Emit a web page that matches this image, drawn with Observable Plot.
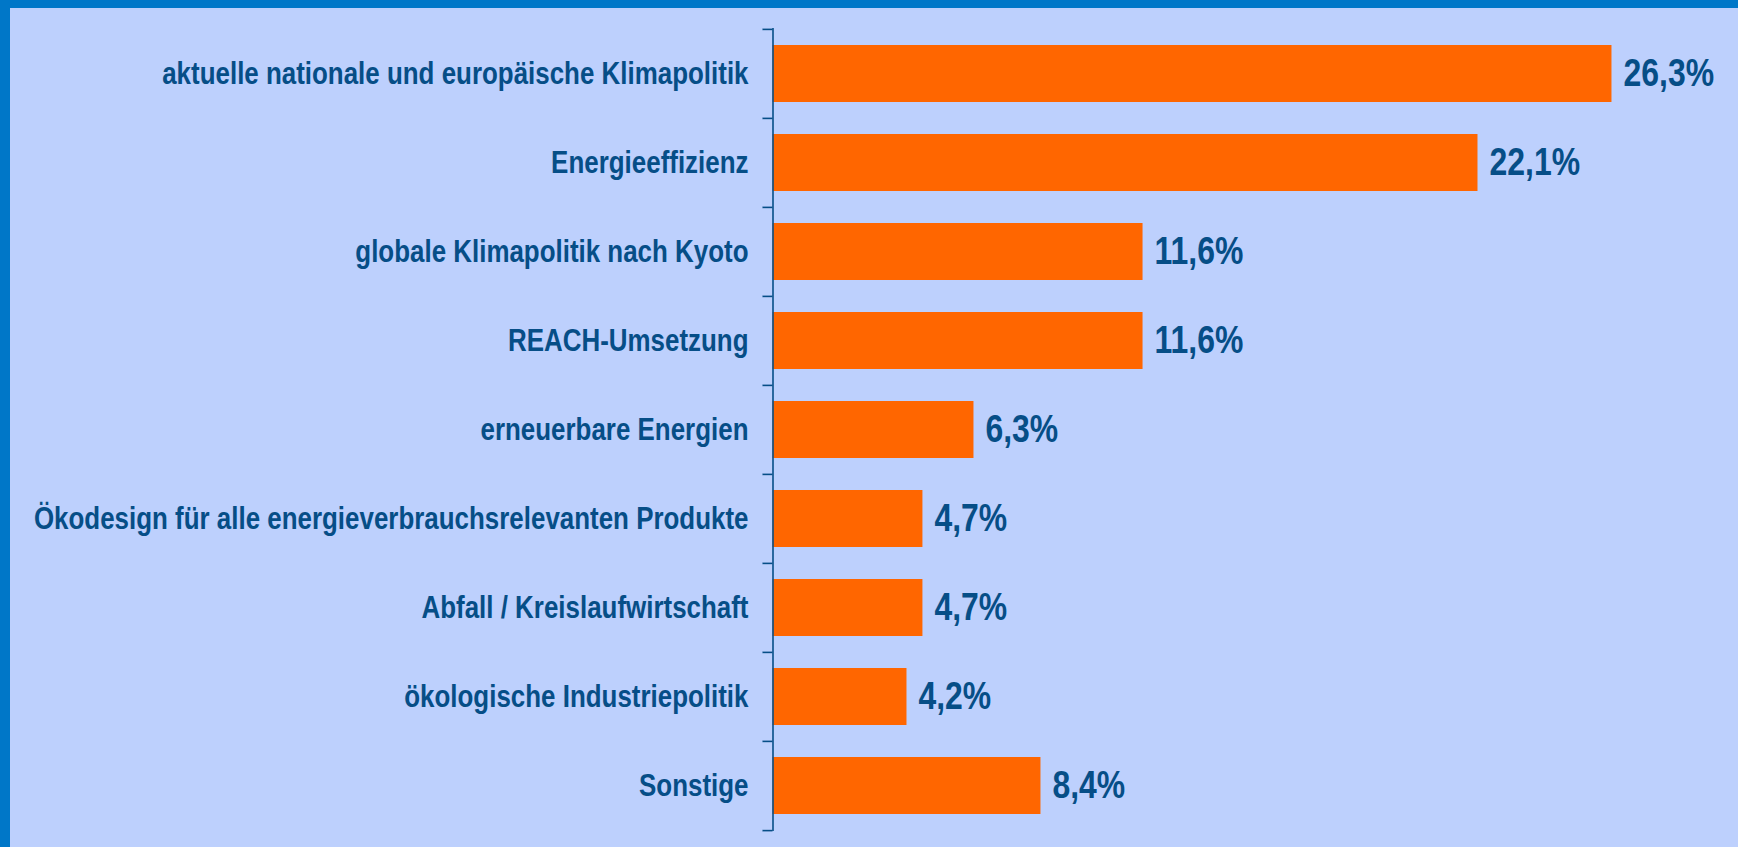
<!DOCTYPE html>
<html><head><meta charset="utf-8">
<script src="https://cdn.jsdelivr.net/npm/d3@7"></script>
<script src="https://cdn.jsdelivr.net/npm/@observablehq/plot@0.6"></script>
<style>
html,body{margin:0;padding:0;background:#0077c8;width:1738px;height:847px;overflow:hidden}
#chart{position:absolute;left:10px;top:8px;width:1728px;height:839px;background:#bdd0fd}
</style></head><body><div id="chart"></div>
<script>
const categories = [
  "aktuelle nationale und europäische Klimapolitik",
  "Energieeffizienz",
  "globale Klimapolitik nach Kyoto",
  "REACH-Umsetzung",
  "erneuerbare Energien",
  "Ökodesign für alle energieverbrauchsrelevanten Produkte",
  "Abfall / Kreislaufwirtschaft",
  "ökologische Industriepolitik",
  "Sonstige"
];
const values = [26.3, 22.1, 11.6, 11.6, 6.3, 4.7, 4.7, 4.2, 8.4];
const valueLabels = ["26,3%", "22,1%", "11,6%", "11,6%", "6,3%", "4,7%", "4,7%", "4,2%", "8,4%"];
const xDomain = [0, 30];

const data = categories.map((c, i) => ({category: c, value: values[i], label: valueLabels[i]}));

const TEXT = "#064e87";
const FONT = '"Liberation Sans", Arial, sans-serif';
const W = 1728, H = 839, mT = 20, mB = 16, mL = 762.5, mR = 8.5;
const step = (H - mT - mB) / categories.length;

const chart = Plot.plot({
  width: W, height: H,
  marginTop: mT, marginBottom: mB, marginLeft: mL, marginRight: mR,
  style: {background: "transparent", fontFamily: FONT, color: TEXT, overflow: "visible"},
  x: {domain: xDomain, axis: null},
  y: {domain: categories, paddingInner: 0.36, paddingOuter: 0.18, label: null, axis: null},
  marks: [
    Plot.barX(data, {x: "value", y: "category", fill: "#ff6600"}),
    Plot.text(data, {x: "value", y: "category", text: "label", textAnchor: "start", dx: 11.5,
      fontSize: 38.5, fontWeight: "bold", fill: TEXT, className: "vlabel"}),
    Plot.axisY({tickSize: 0, tickPadding: 24.5, fontSize: 30.5, fontWeight: "bold", fill: TEXT, label: null, className: "clabel"}),
    Plot.ruleX([0], {stroke: TEXT, strokeWidth: 1.6}),
    Plot.ruleY(categories, {y: d => d, x1: 0, x2: 0, insetLeft: -10, dy: -step / 2, stroke: TEXT, strokeWidth: 1.6}),
    Plot.ruleY(categories.slice(-1), {y: d => d, x1: 0, x2: 0, insetLeft: -10, dy: step / 2, stroke: TEXT, strokeWidth: 1.6})
  ]
});
document.getElementById("chart").append(chart);
// condense text horizontally to mimic a narrow bold typeface
function condense(sel, f) {
  chart.querySelectorAll(sel).forEach(t => {
    const len = t.getComputedTextLength();
    if (len > 0) {
      t.setAttribute("textLength", (len * f).toFixed(1));
      t.setAttribute("lengthAdjust", "spacingAndGlyphs");
    }
  });
}
condense(".vlabel text", 0.83);
condense(".clabel text", 0.85);
</script>
</body></html>
